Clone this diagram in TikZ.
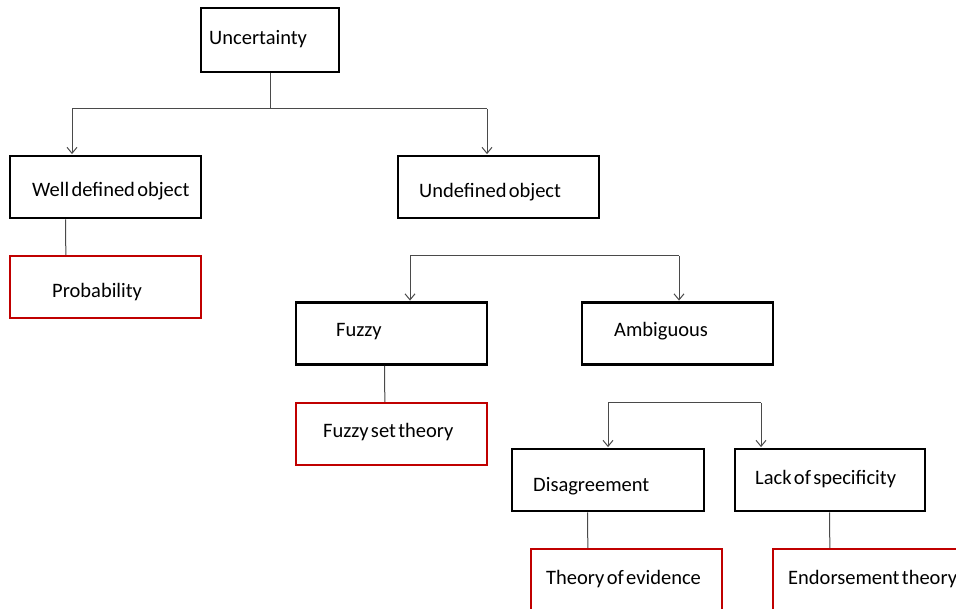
\documentclass[tikz,border=0pt]{standalone}
\usepackage{fontspec}
\setmainfont{Carlito}[WordSpace=0.5]
\usetikzlibrary{arrows.meta,calc}
\definecolor{boxred}{HTML}{C00000}
\definecolor{wire}{HTML}{4A4A4A}
\begin{document}
\begin{tikzpicture}[x=1pt,y=-1pt,
  blk/.style={draw=black,line width=2.8pt,fill=white,inner sep=0pt,
    minimum width=191pt,minimum height=62pt},
  redblk/.style={blk,draw=boxred,line width=2.4pt},
  txt/.style={anchor=base west,inner sep=0pt,font=\fontsize{20.5}{25}\selectfont},
  conn/.style={draw=wire,line width=1pt},
  arr/.style={conn,-{Straight Barb[length=6pt,width=10pt,line width=1pt]},shorten >=0.5pt}]
\useasboundingbox (0,0) rectangle (956,609);
\clip (0,0) rectangle (956,609);

% boxes (centre, size)
\node[blk,minimum width=138pt,minimum height=64pt] (unc) at (270,40) {};
\node[blk] (wdo) at (105.5,187) {};
\node[redblk] (prob) at (105.5,287) {};
\node[blk,minimum width=201pt] (udo) at (498.5,187) {};
\node[blk] (fuz) at (391.5,333.5) {};
\node[redblk] (fst) at (391.5,434) {};
\node[blk] (amb) at (677.5,333.5) {};
\node[blk,minimum width=192pt] (dis) at (608,480) {};
\node[blk,minimum width=190pt] (lack) at (830,480) {};
\node[redblk,minimum height=70pt] (toe) at (626.5,584) {};
\node[redblk,minimum width=200pt,minimum height=70pt] (end) at (873,584) {};

% labels
\node[txt] (tunc) at (209,45) {Uncertainty};
\node[txt] (twdo) at (32,197) {Well defined object};
\node[txt] (tprob) at (52,298) {Probability};
\node[txt] (tudo) at (419,198) {Undefined object};
\node[txt] (tfuz) at (336,337) {Fuzzy};
\node[txt] (tfst) at (323,438) {Fuzzy set theory};
\node[txt] (tamb) at (614,337) {Ambiguous};
\node[txt] (tdis) at (533,491) {Disagreement};
\node[txt] (tlack) at (755,484) {Lack of specificity};
\node[txt] (ttoe) at (546,584) {Theory of evidence};
\node[txt] (tend) at (788,584) {Endorsement theory};

% branch bars
\coordinate (b1l) at (72,109);  \coordinate (b1r) at (487,109);
\coordinate (b2l) at (410,256); \coordinate (b2r) at (679,256);
\coordinate (b3l) at (608,403); \coordinate (b3r) at (761,403);

\draw[conn] (unc.south) -- (unc.south |- b1l);
\draw[conn] (b1l) -- (b1r);
\draw[arr] (b1l) -- (b1l |- wdo.north);
\draw[arr] (b1r) -- (b1r |- udo.north);

\draw[conn] ($(udo.south west)+(82,0)$) -- ($(udo.south west)+(82,0)$ |- b2l);
\draw[conn] (b2l) -- (b2r);
\draw[arr] (b2l) -- (b2l |- fuz.north);
\draw[arr] (b2r) -- (b2r |- amb.north);

\draw[conn] ($(amb.south west)+(96,0)$) -- ($(amb.south west)+(96,0)$ |- b3l);
\draw[conn] (b3l) -- (b3r);
\draw[arr] (b3l) -- (b3l |- dis.north);
\draw[arr] (b3r) -- (b3r |- lack.north);

% leaf links
\draw[conn] ($(wdo.south west)+(57,0)$) -- ($(prob.north west)+(57,0)$);
\draw[conn] ($(fuz.south west)+(90,0)$) -- ($(fst.north west)+(90,0)$);
\draw[conn] ($(dis.south west)+(77,0)$) -- ($(toe.north west)+(58,0)$);
\draw[conn] ($(lack.south west)+(96,0)$) -- ($(end.north west)+(58,0)$);
\end{tikzpicture}
\end{document}
